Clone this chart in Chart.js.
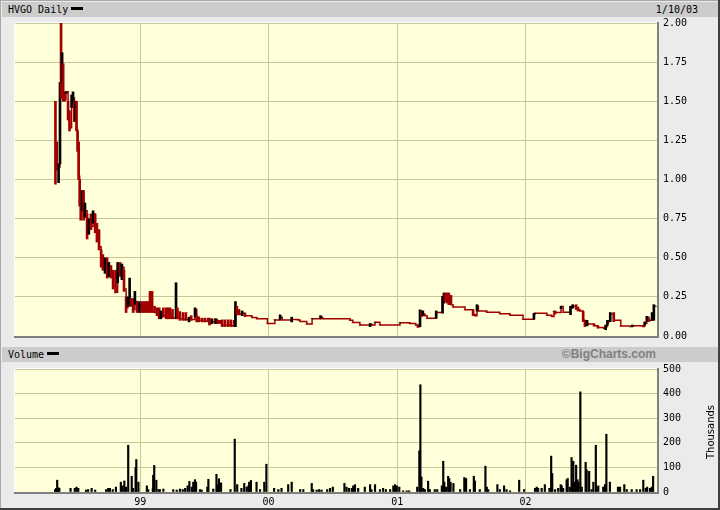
<!DOCTYPE html>
<html>
<head>
<meta charset="utf-8">
<script src="https://cdn.jsdelivr.net/npm/chart.js@4/dist/chart.umd.min.js"></script>
<style>
  html, body { margin: 0; padding: 0; background: #EBEBEB; }
  #frame { position: relative; width: 720px; height: 510px; background: #EBEBEB; overflow: hidden;
           font-family: "DejaVu Sans Mono", monospace; font-size: 10px; color: #000; }
  .hdr { position: absolute; left: 2px; width: 716px; height: 15px; background: #CCCCCC; }
  .hdr .txt { position: absolute; left: 6px; top: 0; line-height: 15px; white-space: pre; }
  .swatch { display: inline-block; width: 12px; height: 3px; background: #000; margin-left: 3px; vertical-align: 3px; }
  .edge { position: absolute; }
  canvas { position: absolute; left: 0; }
  #thousands { position: absolute; left: 710px; top: 432px; transform: translate(-50%, -50%) rotate(-90deg);
               font-family: "DejaVu Sans", sans-serif; font-size: 10px; white-space: nowrap; }
  #brand { position: absolute; right: 62px; top: 0; line-height: 15px; font-family: "Liberation Sans", Arial, sans-serif;
           font-weight: bold; font-size: 12px; color: #808080; }
  #date { position: absolute; right: 20px; top: 0; line-height: 15px; }
</style>
</head>
<body>
<div id="frame">
  <div class="edge" style="left:0;top:0;width:720px;height:1px;background:#A8A8A8"></div>
  <div class="edge" style="left:0;top:0;width:1px;height:510px;background:#A8A8A8"></div>
  <div class="hdr" style="top:2px"><span class="txt">HVGO Daily<span class="swatch"></span></span><span id="date">1/10/03</span></div>
  <div class="hdr" style="top:347px"><span class="txt">Volume<span class="swatch"></span></span><span id="brand">©BigCharts.com</span></div>
  <canvas id="priceChart" width="720" height="345" style="top:0"></canvas>
  <canvas id="volChart" width="720" height="165" style="top:345px"></canvas>
  <div id="thousands">Thousands</div>
  <div class="edge" style="left:718px;top:0;width:2px;height:510px;background:#404040"></div>
  <div class="edge" style="left:0;top:508px;width:720px;height:2px;background:#404040"></div>
</div>
<script>
// x axis: days since 1/10/98 (chart spans five years to 1/10/03)
const dayMax = 1826;
const yearTicks = [356, 721, 1087, 1452];
const yearLabels = ["99", "00", "01", "02"];

// price bars (day, low, high, close)
const priceDay = [
  115, 119, 124, 128, 131, 134, 137, 141, 145, 151,
  155, 161, 165, 169, 172, 175, 178, 181, 184, 187,
  191, 195, 199, 205, 210, 216, 222, 228, 233, 239,
  245, 250, 256, 262, 267, 273, 279, 286, 292, 299,
  304, 310, 316, 321, 326, 330, 336, 341, 347, 354,
  361, 367, 373, 378, 384, 390, 397, 404, 410, 415,
  422, 430, 435, 441, 448, 458, 462, 469, 478, 486,
  495, 501, 512, 517, 523, 532, 540, 549, 553, 560,
  569, 572, 577, 583, 589, 597, 606, 614, 623, 627,
  631, 637, 646, 654, 665, 674, 688, 718, 739, 754,
  760, 787, 805, 811, 830, 845, 869, 875, 953, 961,
  981, 1010, 1015, 1024, 1038, 1095, 1123, 1140, 1146, 1152,
  1156, 1160, 1166, 1172, 1198, 1202, 1216, 1220, 1223, 1229,
  1234, 1240, 1246, 1280, 1303, 1308, 1314, 1318, 1342, 1379,
  1408, 1445, 1476, 1479, 1513, 1527, 1533, 1536, 1553, 1559,
  1580, 1586, 1596, 1601, 1607, 1616, 1621, 1627, 1630, 1647,
  1658, 1675, 1680, 1685, 1689, 1693, 1703, 1712, 1723, 1749,
  1756, 1786, 1791, 1797, 1803, 1812, 1817, 1823
];
const priceLow = [
  0.97, 1.06, 0.98, 1.10, 1.52, 1.62, 1.50, 1.50, 1.55, 1.38,
  1.31, 1.46, 1.50, 1.37, 1.37, 1.31, 1.18, 1.00, 0.83, 0.74,
  0.80, 0.74, 0.76, 0.62, 0.65, 0.68, 0.72, 0.66, 0.60, 0.55,
  0.44, 0.42, 0.40, 0.37, 0.38, 0.37, 0.30, 0.275, 0.34, 0.38,
  0.36, 0.285, 0.15, 0.19, 0.19, 0.19, 0.15, 0.20, 0.15, 0.15,
  0.15, 0.15, 0.15, 0.15, 0.15, 0.15, 0.15, 0.13, 0.11, 0.11,
  0.12, 0.11, 0.11, 0.11, 0.11, 0.11, 0.11, 0.10, 0.10, 0.10,
  0.09, 0.10, 0.12, 0.09, 0.09, 0.09, 0.09, 0.09, 0.07, 0.08,
  0.08, 0.08, 0.08, 0.08, 0.06, 0.06, 0.06, 0.06, 0.06, 0.06,
  0.135, 0.135, 0.13, 0.124, 0.13, 0.118, 0.11, 0.08, 0.103, 0.103,
  0.103, 0.09, 0.103, 0.092, 0.077, 0.11, 0.11, 0.11, 0.10, 0.086,
  0.07, 0.06, 0.07, 0.088, 0.071, 0.084, 0.08, 0.07, 0.055, 0.06,
  0.125, 0.13, 0.13, 0.114, 0.114, 0.15, 0.146, 0.21, 0.22, 0.21,
  0.20, 0.20, 0.185, 0.167, 0.13, 0.13, 0.16, 0.16, 0.152, 0.142,
  0.133, 0.107, 0.107, 0.146, 0.133, 0.125, 0.157, 0.14, 0.175, 0.152,
  0.136, 0.178, 0.17, 0.16, 0.16, 0.092, 0.06, 0.065, 0.077, 0.064,
  0.05, 0.05, 0.04, 0.07, 0.092, 0.092, 0.092, 0.10, 0.064, 0.06,
  0.06, 0.06, 0.07, 0.092, 0.092, 0.10, 0.10, 0.19
];
const priceHigh = [
  1.50, 1.24, 1.10, 1.62, 2.00, 1.81, 1.74, 1.56, 1.56, 1.50,
  1.44, 1.54, 1.56, 1.50, 1.50, 1.50, 1.31, 1.24, 1.00, 0.90,
  0.93, 0.93, 0.85, 0.78, 0.75, 0.78, 0.80, 0.78, 0.72, 0.68,
  0.55, 0.52, 0.50, 0.50, 0.47, 0.45, 0.42, 0.42, 0.47, 0.47,
  0.46, 0.42, 0.25, 0.25, 0.37, 0.24, 0.24, 0.285, 0.22, 0.22,
  0.22, 0.22, 0.22, 0.22, 0.285, 0.285, 0.19, 0.18, 0.18, 0.16,
  0.18, 0.18, 0.18, 0.18, 0.17, 0.34, 0.18, 0.156, 0.15, 0.15,
  0.12, 0.13, 0.18, 0.13, 0.12, 0.114, 0.114, 0.114, 0.114, 0.11,
  0.11, 0.11, 0.10, 0.10, 0.103, 0.103, 0.103, 0.103, 0.10, 0.22,
  0.19, 0.17, 0.16, 0.146, 0.13, 0.118, 0.11, 0.08, 0.103, 0.135,
  0.103, 0.12, 0.103, 0.092, 0.077, 0.11, 0.13, 0.11, 0.10, 0.086,
  0.07, 0.08, 0.07, 0.088, 0.071, 0.084, 0.08, 0.07, 0.07, 0.167,
  0.16, 0.16, 0.13, 0.114, 0.16, 0.15, 0.253, 0.275, 0.275, 0.275,
  0.275, 0.26, 0.185, 0.167, 0.167, 0.14, 0.20, 0.16, 0.152, 0.142,
  0.133, 0.107, 0.145, 0.146, 0.133, 0.125, 0.157, 0.16, 0.19, 0.152,
  0.19, 0.20, 0.20, 0.185, 0.16, 0.157, 0.10, 0.10, 0.077, 0.077,
  0.064, 0.05, 0.07, 0.10, 0.10, 0.15, 0.15, 0.10, 0.064, 0.06,
  0.07, 0.06, 0.09, 0.125, 0.11, 0.15, 0.20, 0.19
];
const priceClose = [
  1.10, 1.07, 1.08, 1.55, 1.53, 1.64, 1.52, 1.51, 1.56, 1.40,
  1.33, 1.50, 1.52, 1.40, 1.45, 1.32, 1.20, 1.02, 0.85, 0.80,
  0.88, 0.76, 0.80, 0.66, 0.72, 0.70, 0.78, 0.68, 0.62, 0.57,
  0.46, 0.45, 0.48, 0.38, 0.42, 0.38, 0.32, 0.28, 0.45, 0.40,
  0.44, 0.30, 0.18, 0.20, 0.21, 0.20, 0.17, 0.22, 0.18, 0.20,
  0.16, 0.16, 0.16, 0.16, 0.16, 0.155, 0.15, 0.14, 0.12, 0.14,
  0.13, 0.12, 0.12, 0.12, 0.115, 0.15, 0.12, 0.11, 0.105, 0.105,
  0.11, 0.105, 0.17, 0.12, 0.10, 0.095, 0.095, 0.095, 0.08, 0.09,
  0.085, 0.10, 0.09, 0.085, 0.07, 0.07, 0.07, 0.065, 0.065, 0.18,
  0.15, 0.14, 0.145, 0.13, 0.13, 0.118, 0.11, 0.08, 0.103, 0.12,
  0.103, 0.105, 0.103, 0.092, 0.077, 0.11, 0.12, 0.11, 0.10, 0.086,
  0.07, 0.075, 0.07, 0.088, 0.071, 0.084, 0.08, 0.07, 0.06, 0.16,
  0.13, 0.14, 0.13, 0.114, 0.15, 0.15, 0.24, 0.26, 0.23, 0.22,
  0.21, 0.20, 0.185, 0.167, 0.135, 0.13, 0.19, 0.16, 0.152, 0.142,
  0.133, 0.107, 0.14, 0.146, 0.133, 0.125, 0.157, 0.15, 0.188, 0.152,
  0.18, 0.19, 0.18, 0.17, 0.16, 0.10, 0.07, 0.08, 0.077, 0.065,
  0.055, 0.05, 0.06, 0.09, 0.095, 0.14, 0.10, 0.10, 0.064, 0.06,
  0.065, 0.06, 0.08, 0.12, 0.10, 0.14, 0.19, 0.19
];

// volume (thousands of shares)
const volDay = [
  114, 117, 120, 123, 126, 158, 170, 175, 180, 202,
  208, 218, 228, 259, 265, 270, 278, 287, 301, 306,
  311, 316, 322, 332, 336, 343, 345, 351, 375, 379,
  392, 393, 396, 402, 408, 412, 422, 450, 460, 469,
  477, 484, 491, 496, 503, 507, 512, 515, 526, 531,
  547, 550, 564, 573, 576, 580, 586, 613, 625, 632,
  644, 652, 659, 664, 666, 671, 687, 697, 709, 715,
  737, 749, 758, 777, 787, 811, 820, 844, 848, 858,
  865, 872, 888, 896, 904, 937, 943, 950, 958, 962,
  967, 976, 995, 1010, 1014, 1024, 1038, 1047, 1055, 1067,
  1076, 1081, 1086, 1093, 1104, 1114, 1121, 1144, 1150, 1153,
  1156, 1161, 1166, 1175, 1180, 1194, 1201, 1214, 1218, 1221,
  1226, 1232, 1235, 1239, 1247, 1266, 1278, 1283, 1294, 1305,
  1308, 1322, 1338, 1342, 1346, 1372, 1379, 1391, 1398, 1408,
  1434, 1448, 1479, 1484, 1488, 1498, 1507, 1520, 1525, 1528,
  1536, 1545, 1552, 1555, 1559, 1569, 1572, 1578, 1583, 1586,
  1588, 1593, 1596, 1600, 1603, 1608, 1612, 1623, 1626, 1633,
  1640, 1645, 1652, 1654, 1659, 1673, 1678, 1682, 1692, 1715,
  1721, 1733, 1740, 1754, 1768, 1778, 1787, 1794, 1798, 1806,
  1811, 1815
];
const volK = [
  10, 15, 48, 18, 15, 15, 15, 20, 15, 8,
  10, 15, 8, 10, 15, 15, 10, 20, 40, 25,
  45, 20, 190, 64, 15, 100, 132, 40, 25, 10,
  15, 68, 108, 48, 10, 10, 12, 10, 8, 12,
  10, 15, 25, 43, 20, 40, 50, 40, 10, 8,
  20, 52, 12, 72, 30, 54, 37, 10, 215, 30,
  15, 35, 20, 25, 40, 47, 40, 10, 40, 113,
  15, 10, 15, 30, 40, 10, 10, 35, 10, 8,
  10, 8, 10, 15, 20, 35, 20, 15, 15, 25,
  30, 15, 20, 30, 10, 30, 10, 15, 10, 10,
  25, 30, 25, 20, 5, 5, 5, 20, 167, 436,
  61, 15, 10, 44, 10, 10, 10, 25, 125, 40,
  20, 64, 55, 40, 35, 10, 59, 55, 10, 64,
  45, 10, 105, 20, 10, 30, 10, 25, 10, 5,
  48, 10, 15, 20, 15, 15, 30, 15, 146, 75,
  10, 15, 30, 25, 15, 50, 55, 20, 140, 30,
  125, 40, 109, 50, 40, 407, 20, 121, 90, 84,
  10, 40, 190, 20, 25, 20, 30, 235, 40, 20,
  20, 30, 10, 10, 10, 10, 48, 15, 20, 15,
  20, 64
];

const RED = "#A00000";
const GRID = "#C8C896";
const MONO = { family: "DejaVu Sans Mono", size: 10 };

// yellow plot background and the bevelled frame round it
const plotFrame = {
  id: "plotFrame",
  beforeDraw(chart) {
    const a = chart.chartArea, ctx = chart.ctx;
    ctx.save();
    ctx.fillStyle = "#FFFFD9";
    ctx.fillRect(a.left, a.top, a.right - a.left, a.bottom - a.top);
    ctx.restore();
  },
  afterDraw(chart) {
    const a = chart.chartArea, ctx = chart.ctx;
    ctx.save();
    ctx.fillStyle = "#FFFFFF";
    ctx.fillRect(a.left - 1, a.top - 1, a.right - a.left + 1, 1);
    ctx.fillRect(a.left - 1, a.top - 1, 1, a.bottom - a.top + 1);
    ctx.fillStyle = "#808080";
    ctx.fillRect(a.left - 1, a.bottom, a.right - a.left + 3, 2);
    ctx.fillRect(a.right, a.top - 1, 2, a.bottom - a.top + 3);
    ctx.restore();
  }
};

function yearAxis(showLabels) {
  return {
    type: "linear",
    min: 0,
    max: dayMax,
    offset: false,
    grid: { color: GRID, drawTicks: false, offset: false },
    border: { display: false },
    ticks: {
      display: showLabels,
      font: MONO,
      color: "#000",
      padding: 4,
      maxRotation: 0,
      callback: v => yearLabels[yearTicks.indexOf(v)]
    },
    afterBuildTicks: s => { s.ticks = yearTicks.map(v => ({ value: v })); },
    afterFit: s => { s.height = showLabels ? 18 : 0; s.paddingLeft = 0; s.paddingRight = 0; }
  };
}

function rightAxis(max, step, fmt) {
  return {
    position: "right",
    min: 0,
    max: max,
    grid: { color: GRID, drawTicks: false },
    border: { display: false },
    ticks: { stepSize: step, font: MONO, color: "#000", padding: 6, callback: fmt },
    afterFit: s => { s.width = 63; s.paddingTop = 0; s.paddingBottom = 0; }
  };
}

new Chart(document.getElementById("priceChart"), {
  type: "bar",
  data: {
    datasets: [
      {
        type: "bar",
        data: priceDay.map((d, i) => ({ x: d, y: [priceLow[i], priceHigh[i]] })),
        backgroundColor: priceDay.map((d, i) => (i > 0 && priceClose[i] > priceClose[i - 1]) ? "#000000" : RED),
        barThickness: 2,
        borderWidth: 0,
        grouped: false
      },
      {
        type: "line",
        data: priceDay.map((d, i) => ({ x: d, y: priceClose[i] })),
        stepped: true,
        borderColor: RED,
        borderWidth: 1.5,
        pointRadius: 0,
        fill: false
      }
    ]
  },
  options: {
    responsive: false,
    animation: false,
    devicePixelRatio: 1,
    layout: { padding: { left: 15, top: 23, right: 0, bottom: 9 } },
    plugins: { legend: { display: false }, tooltip: { enabled: false } },
    scales: {
      x: yearAxis(false),
      y: rightAxis(2, 0.25, v => v.toFixed(2))
    }
  },
  plugins: [plotFrame]
});

new Chart(document.getElementById("volChart"), {
  type: "bar",
  data: {
    datasets: [{
      data: volDay.map((d, i) => ({ x: d, y: volK[i] })),
      backgroundColor: "#000000",
      barThickness: 1.5,
      borderWidth: 0
    }]
  },
  options: {
    responsive: false,
    animation: false,
    devicePixelRatio: 1,
    layout: { padding: { left: 15, top: 24, right: 0, bottom: 0 } },
    plugins: { legend: { display: false }, tooltip: { enabled: false } },
    scales: {
      x: yearAxis(true),
      y: rightAxis(500, 100, v => String(v))
    }
  },
  plugins: [plotFrame]
});
</script>
</body>
</html>
